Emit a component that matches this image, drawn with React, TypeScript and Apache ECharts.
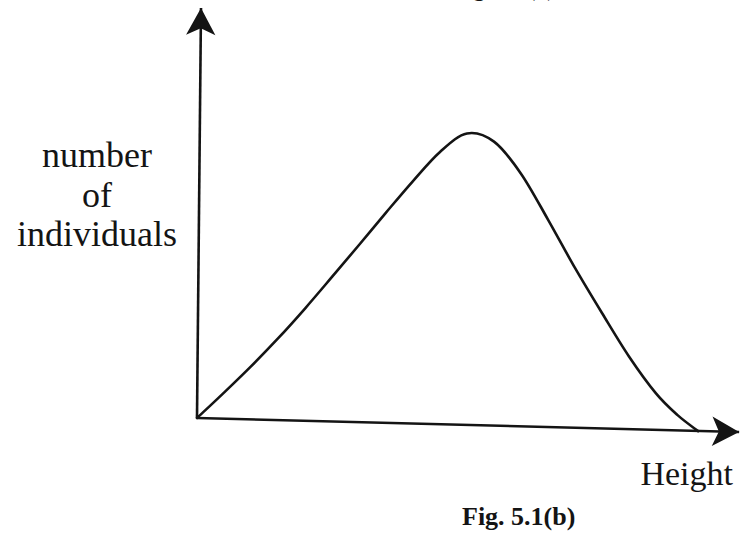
import React, { useEffect, useRef } from "react";
import * as echarts from "echarts";

// Height (x) and number of individuals (y), in plot units
const heightValues = [0, 5, 10, 15, 20, 25, 30, 35, 40, 45, 50, 55, 60, 65, 70, 75, 80, 85, 89, 92.8];
const individualCounts = [0, 6.2, 12.6, 19.4, 26.7, 34.4, 42.2, 50.1, 57.8, 64.9, 69.4, 67.4, 59.6, 48.4, 36.6, 25.6, 15.0, 6.0, 0.7, -3.2];

// Drawn axis lines (origin and arrow tip), in the same plot units
const xAxisLine = [[0, 0], [100.4, -3.4]];
const yAxisLine = [[0, 0], [0.74, 100]];

const yLabelLines = ["number", "of", "individuals"];
const xLabel = "Height";
const caption = "Fig. 5.1(b)";
const previousCaption = "Fig. 5.1(a)";

const INK = "#141414";
const SERIF = '"Liberation Serif", "Times New Roman", serif';

// Catmull-Rom spline through pixel points, written as cubic Bézier segments
function splinePath(pts: number[][]): string {
  let d = `M${pts[0][0]},${pts[0][1]}`;
  for (let i = 0; i < pts.length - 1; i++) {
    const p0 = pts[Math.max(0, i - 1)];
    const p1 = pts[i];
    const p2 = pts[i + 1];
    const p3 = pts[Math.min(pts.length - 1, i + 2)];
    const c1x = p1[0] + (p2[0] - p0[0]) / 6;
    const c1y = p1[1] + (p2[1] - p0[1]) / 6;
    const c2x = p2[0] - (p3[0] - p1[0]) / 6;
    const c2y = p2[1] - (p3[1] - p1[1]) / 6;
    d += ` C${c1x},${c1y} ${c2x},${c2y} ${p2[0]},${p2[1]}`;
  }
  return d;
}

export default function App() {
  const ref = useRef<HTMLDivElement>(null);

  useEffect(() => {
    if (!ref.current) return;
    const chart = echarts.init(ref.current, undefined, { renderer: "svg" });

    const curve = heightValues.map((h, i) => [h, individualCounts[i]]);

    chart.setOption({
      animation: false,
      backgroundColor: "#ffffff",
      grid: { left: 197, right: 0, top: 8, bottom: 81, containLabel: false },
      xAxis: { type: "value", min: 0, max: 100.56, show: false },
      yAxis: { type: "value", min: -10, max: 100, show: false },
      series: [
        {
          type: "custom",
          coordinateSystem: "cartesian2d",
          data: curve,
          clip: false,
          silent: true,
          renderItem: (params: any, api: any) => {
            if (params.dataIndex !== 0) return null;
            const pts = curve.map((p) => api.coord(p));
            return {
              type: "path",
              shape: { pathData: splinePath(pts) },
              style: {
                stroke: INK,
                fill: "none",
                lineWidth: 2.6,
                lineCap: "round",
                lineJoin: "round",
              },
            };
          },
          markLine: {
            silent: true,
            symbol: ["none", "arrow"],
            symbolSize: [22, 27],
            label: { show: false },
            lineStyle: { color: INK, width: 2.6, type: "solid" },
            emphasis: { disabled: true },
            data: [
              [{ coord: xAxisLine[0] }, { coord: xAxisLine[1] }],
              [{ coord: yAxisLine[0] }, { coord: yAxisLine[1] }],
            ],
          },
        },
      ],
      graphic: [
        ...yLabelLines.map((t, i) => ({
          type: "text",
          x: 97,
          y: 155 + i * 39.5,
          style: {
            text: t,
            font: `36px ${SERIF}`,
            fill: INK,
            align: "center",
            verticalAlign: "middle",
          },
        })),
        {
          type: "text",
          x: 733,
          y: 473,
          style: {
            text: xLabel,
            font: `34px ${SERIF}`,
            fill: INK,
            align: "right",
            verticalAlign: "middle",
          },
        },
        {
          type: "text",
          x: 462,
          y: 516,
          style: {
            text: caption,
            font: `bold 26px ${SERIF}`,
            fill: INK,
            align: "left",
            verticalAlign: "middle",
          },
        },
        {
          type: "text",
          x: 452,
          y: -12,
          style: {
            text: previousCaption,
            font: `bold 24px ${SERIF}`,
            fill: INK,
            align: "left",
            verticalAlign: "middle",
          },
        },
      ],
    });

    return () => chart.dispose();
  }, []);

  return (
    <div
      ref={ref}
      style={{ position: "absolute", left: 0, top: 0, width: 740, height: 540 }}
    />
  );
}
